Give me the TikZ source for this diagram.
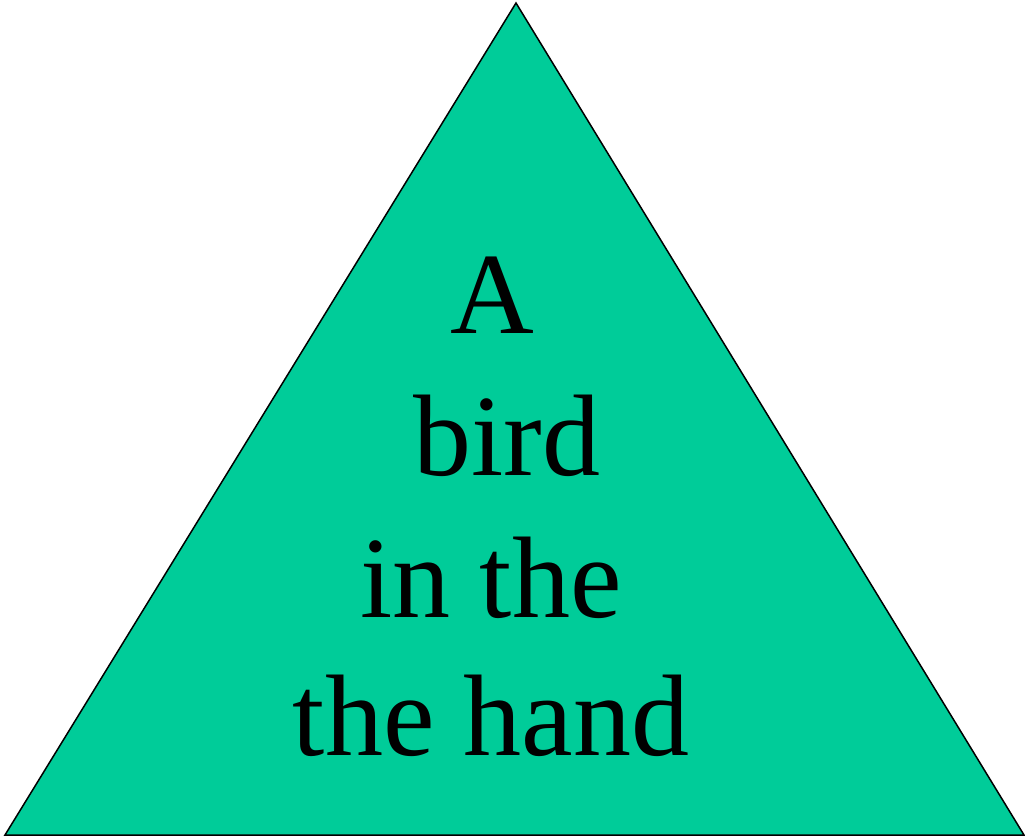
\documentclass[tikz,border=0pt]{standalone}
\usepackage{fontspec}
\setmainfont{Liberation Serif}
\definecolor{tri}{HTML}{00CC99}
\begin{document}
\begin{tikzpicture}[x=1pt,y=-1pt,
  txt/.style={anchor=base,inner sep=0pt,font=\fontsize{116}{139}\selectfont}]
\useasboundingbox (0,0) rectangle (1025,837);
\coordinate (top) at (516,3);
\coordinate (bl) at (5,835);
\coordinate (br) at (1024,835);
\fill[tri] (top) -- (bl) -- (br) -- cycle;
\draw[line width=1.5pt,line join=miter] (top) -- (bl) -- (br) -- cycle;
\node[txt] (l1) at (492,333) {A};
\node[txt] (l2) at (507,475) {bird};
\node[txt] (l3) at (491,617) {in the};
\node[txt] (l4) at (491,755) {the hand};
\end{tikzpicture}
\end{document}
